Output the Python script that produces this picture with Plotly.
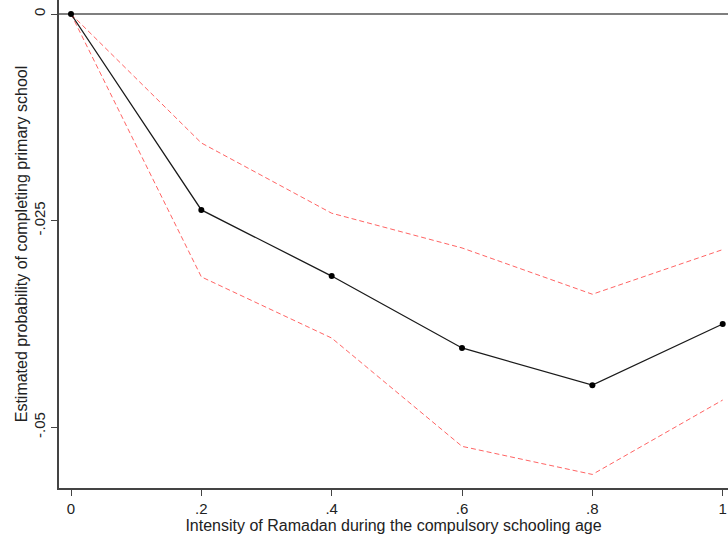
import plotly.graph_objects as go

intensity = [0, 0.2, 0.4, 0.6, 0.8, 1.0]
estimate = [0.0, -0.0237, -0.0317, -0.0404, -0.0449, -0.0375]
upper_ci = [0.0, -0.0156, -0.0241, -0.0283, -0.0339, -0.0285]
lower_ci = [0.0, -0.0318, -0.0392, -0.0523, -0.0557, -0.0467]

x_ticks = [0, 0.2, 0.4, 0.6, 0.8, 1.0]
x_tick_labels = ["0", ".2", ".4", ".6", ".8", "1"]
y_ticks = [0, -0.025, -0.05]
y_tick_labels = ["0", "-.025", "-.05"]

fig = go.Figure()
fig.add_hline(y=0, line=dict(color="#555555", width=1.5), layer="below")
for ci in (upper_ci, lower_ci):
    fig.add_trace(go.Scatter(x=intensity, y=ci, mode="lines",
                             line=dict(color="#ff6464", width=1, dash="5px,3px"),
                             showlegend=False, hoverinfo="skip", cliponaxis=False))
fig.add_trace(go.Scatter(x=intensity, y=estimate, mode="lines+markers",
                         line=dict(color="#1a1a1a", width=1.3),
                         marker=dict(color="black", size=6),
                         showlegend=False, cliponaxis=False))

fig.update_layout(
    width=728, height=542,
    margin=dict(l=59, r=0, t=0, b=54),
    paper_bgcolor="white", plot_bgcolor="white",
    font=dict(family="Liberation Sans, Arial, sans-serif", size=15, color="#222222"),
    xaxis=dict(range=[-0.01841, 1.00813], tickvals=x_ticks, ticktext=x_tick_labels,
               automargin=False,
               showgrid=False, zeroline=False, showline=True, linecolor="#444444", linewidth=1.5,
               ticks="outside", ticklen=6, tickcolor="#444444", tickwidth=1.2,
               tickfont=dict(size=15),
               title=dict(text="Intensity of Ramadan during the compulsory schooling age",
                          font=dict(size=16), standoff=2)),
    yaxis=dict(range=[-0.05734, 0.001694], tickvals=y_ticks, ticktext=y_tick_labels,
               tickangle=-90, automargin=False,
               showgrid=False, zeroline=False, showline=True, linecolor="#444444", linewidth=1.5,
               ticks="outside", ticklen=6, tickcolor="#444444", tickwidth=1.2,
               tickfont=dict(size=15),
               title=dict(text="Estimated probability of completing primary school",
                          font=dict(size=16), standoff=0)),
)

fig.write_html("out.html", config={"displayModeBar": False},
               post_script="document.body.style.margin='0';document.body.style.overflow='hidden';")
